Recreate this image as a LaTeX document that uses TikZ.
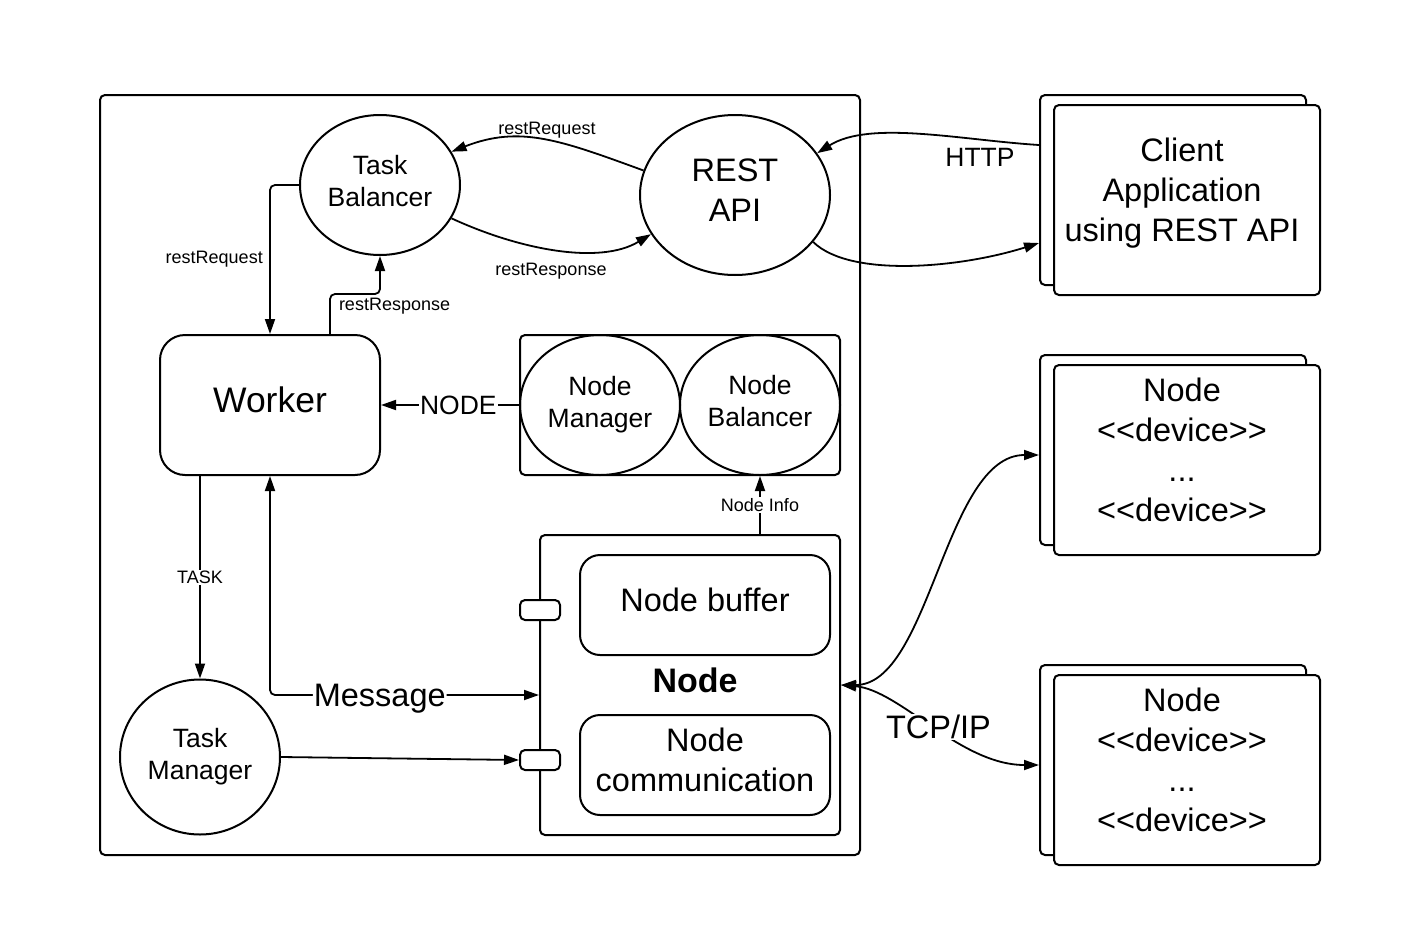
\documentclass[tikz,border=0pt]{standalone}
\usepackage{fontspec}
\setmainfont{Liberation Sans}
\usetikzlibrary{shapes.geometric,arrows.meta,calc}

% text sizes (1 unit = 1pt)
\newcommand{\fntS}{\fontsize{18}{22}\selectfont}
\newcommand{\fntM}{\fontsize{26.5}{32}\selectfont}
\newcommand{\fntL}{\fontsize{32.5}{40}\selectfont}
\newcommand{\fntW}{\fontsize{35.5}{42}\selectfont}

\begin{document}
\begin{tikzpicture}[x=1pt,y=-1pt,
  line width=2pt,
  >={Triangle[length=15pt,width=10pt]},
  box/.style={draw, rectangle, rounded corners=5pt, inner sep=0pt, fill=white},
  oval/.style={draw, ellipse, inner sep=0pt,
               minimum width=160pt, minimum height=140pt},
  part/.style={draw, rectangle, rounded corners=20pt, inner sep=0pt,
               minimum width=250pt, minimum height=100pt},
  port/.style={draw, rectangle, rounded corners=5pt, fill=white,
               minimum width=40pt, minimum height=20pt, inner sep=0pt},
  txtM/.style={align=center, font=\fntM, inner sep=0pt},
  txtL/.style={align=center, font=\fntL, inner sep=0pt},
  lbl/.style={font=\fntS},
  onlbl/.style={fill=white, inner sep=1pt},
  conn/.style={line width=1.8pt}
]
\fill[white] (0,0) rectangle (1414,945);
\useasboundingbox (0,0) rectangle (1414,945);

% server frame
\node[box, minimum width=760pt, minimum height=760pt] (sys) at (480,475) {};

% request handling
\node[oval] (tb) at (380,185) {};
\node[txtM] (tbtxt) at ([yshift=4pt]tb.center) {Task\\Balancer};
\node[oval, minimum width=190pt, minimum height=160pt] (rest) at (735,195) {};
\node[txtL] (resttxt) at ([yshift=5pt]rest.center) {REST\\API};
\node[draw, rectangle, rounded corners=25pt, minimum width=220pt, minimum height=140pt] (worker) at (270,405) {};
\node[font=\fntW, inner sep=0pt] (workertxt) at ([yshift=5pt]worker.center) {Worker};

% node management
\node[box, minimum width=320pt, minimum height=140pt] (nmbox) at (680,405) {};
\node[oval] (nmgr) at (600,405) {};
\node[txtM] (nmgrtxt) at (nmgr.center) {Node\\Manager};
\node[oval] (nbal) at (760,405) {};
\node[txtM] (nbaltxt) at ([yshift=4pt]nbal.center) {Node\\Balancer};

% node component
\node[box, minimum width=300pt, minimum height=300pt] (nodebox) at (690,685) {};
\node[part] (nbuf) at (705,605) {};
\node[txtL] (nbuftxt) at ([yshift=5pt]nbuf.center) {Node buffer};
\node[part] (ncomm) at (705,765) {};
\node[txtL] (ncommtxt) at ([yshift=5pt]ncomm.center) {Node\\communication};
\node[font=\fontsize{34}{40}\selectfont\bfseries] (nodelbl) at (695,680) {Node};
\node[port] (port1) at (540,610) {};
\node[port] (port2) at (540,760) {};

\node[oval, minimum height=155pt] (tm) at (200,757) {};
\node[txtM] (tmtxt) at (tm.center) {Task\\Manager};

% external systems
\node[box, minimum width=266pt, minimum height=190pt] (clientB) at (1173,190) {};
\node[box, minimum width=266pt, minimum height=190pt] (clientF) at (1187,200) {};
\node[txtL] (clienttxt) at (1182,193) {Client\\Application\\using REST API};

\node[box, minimum width=266pt, minimum height=190pt] (dev1B) at (1173,450) {};
\node[box, minimum width=266pt, minimum height=190pt] (dev1F) at (1187,460) {};
\node[txtL] (dev1txt) at (1182,450) {Node\\<{}<device>{}>\\...\\<{}<device>{}>};

\node[box, minimum width=266pt, minimum height=190pt] (dev2B) at (1173,760) {};
\node[box, minimum width=266pt, minimum height=190pt] (dev2F) at (1187,770) {};
\node[txtL] (dev2txt) at (1182,760) {Node\\<{}<device>{}>\\...\\<{}<device>{}>};

% connectors
\draw[conn, ->, rounded corners=5pt] (tb.west) -| node[pos=0.75, left, xshift=-3pt, lbl] {restRequest} (worker.north);
\draw[conn, ->, rounded corners=5pt] ([xshift=60pt]worker.north) -- ++(0,-40) coordinate (rr) -| (tb.south);
\node[lbl, anchor=west, inner sep=0pt] (rrlbl) at (338,306) {restResponse};

\draw[conn, ->] (rest.165) .. controls (560,140) and (520,125) .. (tb.25);
\node[lbl] (reqlbl) at (547,130) {restRequest};
\draw[conn, ->] (tb.-25) .. controls (520,250) and (600,265) .. (rest.205);
\node[lbl] (reslbl) at (551,271) {restResponse};

\draw[conn, ->] ([yshift=45pt]clientB.west) .. controls (960,140) and (870,120) .. (rest.27);
\node[font=\fntM] (httplbl) at (980,157) {HTTP};
\draw[conn, ->] (rest.-31) .. controls (850,278) and (960,268) .. ([yshift=-53pt]clientB.west);

\draw[conn, ->] (nmbox.west) -- node[pos=0.44, onlbl, font=\fntM] {NODE} (worker.east);
\draw[conn, ->] (nbal.south |- nodebox.north) -- node[onlbl, lbl] {Node Info} (nbal.south);
\draw[conn, ->] ([xshift=-70pt]worker.south) -- node[onlbl, lbl] {TASK} (tm.north);
\draw[conn, <->, rounded corners=5pt] (worker.south) |- node[pos=0.704, yshift=-4pt, onlbl, font=\fntL] {Message} ([yshift=-10pt]nodebox.west);
\draw[conn, ->] (tm.east) -- (port2.west);

\draw[conn, <->] (nodebox.east) .. controls (930,685) and (945,455) .. ([yshift=-5pt]dev1B.west);
\draw[conn, <->] (nodebox.east) .. controls (900,690) and (960,765) .. node[pos=0.5, xshift=6pt, onlbl, font=\fntL] {TCP/IP} ([yshift=-5pt]dev2B.west);
\end{tikzpicture}
\end{document}
